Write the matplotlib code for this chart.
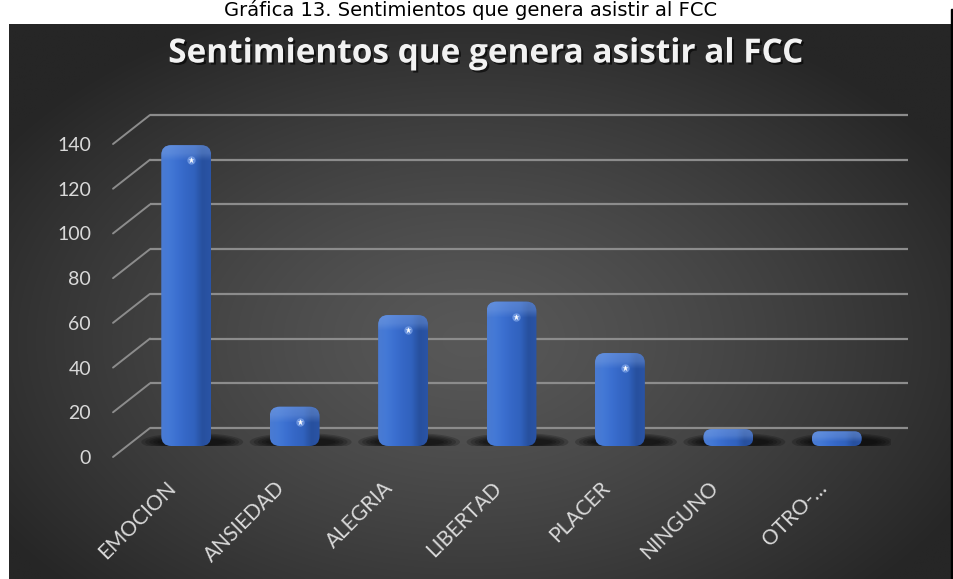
import numpy as np
import matplotlib
matplotlib.use('Agg')
import matplotlib.pyplot as plt
from matplotlib.patches import FancyBboxPatch, Rectangle, ConnectionPatch, Ellipse
from matplotlib.transforms import ScaledTranslation, blended_transform_factory
import matplotlib.patheffects as pe
from matplotlib.colors import LinearSegmentedColormap

# ---------------- data ----------------
categories = ['EMOCION', 'ANSIEDAD', 'ALEGRIA', 'LIBERTAD', 'PLACER', 'NINGUNO', 'OTRO-…']
values = [131, 14, 55, 61, 38, 4, 3]
yticks = [0, 20, 40, 60, 80, 100, 120, 140]
ytick_labels = [str(v) for v in yticks]
title = 'Sentimientos que genera asistir al FCC'
caption = 'Gráfica 13. Sentimientos que genera asistir al FCC'

W, H = 954, 579
fig = plt.figure(figsize=(W / 100, H / 100), dpi=100)
fig.patch.set_facecolor('white')


def off(dx, dy):
    return ScaledTranslation(dx / 100, dy / 100, fig.dpi_scale_trans)


# ---------------- background ----------------
bg = fig.add_axes([0, 0, 1, 1], zorder=-10)
bg.set_xlim(0, W)
bg.set_ylim(H, 0)
bg.axis('off')
x0, x1, y0, y1 = 9, 951, 24, 579
gx, gy = np.meshgrid(np.linspace(x0, x1, 400), np.linspace(y0, y1, 250))
r = np.sqrt(((gx - 470) / 560) ** 2 + ((gy - 340) / 360) ** 2)
r = np.clip(r, 0, 1)
c_center = np.array([0x58, 0x58, 0x58]) / 255
c_edge = np.array([0x26, 0x26, 0x26]) / 255
img = c_center + (c_edge - c_center) * (r[..., None] ** 1.3)
bg.imshow(img, extent=(x0, x1, y1, y0), aspect='auto', interpolation='bilinear')
bg.add_patch(Rectangle((951, 9), 3, H, color='black'))

# ---------------- main axes ----------------
ax = fig.add_axes([132 / W, (H - 446) / H, 759 / W, 313 / H])
ax.patch.set_alpha(0)
for s in ax.spines.values():
    s.set_visible(False)

ppx = 759 / 7
ppy = 313 / 140
aspect = (1 / ppy) / (1 / ppx)

blend = blended_transform_factory(ax.transAxes, ax.transData)
back = blend + off(0, 18)
front = blend + off(0, -11)
grid_col = '#8c8c8c'
for v in yticks:
    ax.plot([0.0237, 1.0224], [v, v], transform=back, color=grid_col, lw=1.6,
            clip_on=False, zorder=1, solid_capstyle='butt')
    cp = ConnectionPatch((-0.025, v), (0.0237, v), coordsA=front, coordsB=back,
                         color=grid_col, lw=1.4, clip_on=False, zorder=1)
    ax.add_artist(cp)

# ---------------- bars ----------------
bw = 0.46
idx = np.arange(len(categories))
bars = ax.bar(idx, values, width=bw, color='none', edgecolor='none', zorder=3)

cmap = LinearSegmentedColormap.from_list(
    'bar', ['#4a7bd2', '#4479d6', '#3b6fd0', '#3567c6', '#3162be', '#27509e', '#2a54a6'])
grad = np.linspace(0, 1, 120)[None, :]
lid_px = 8

for b in bars:
    x, w, h = b.get_x(), b.get_width(), b.get_height()
    cx = x + w / 2
    hp = h * ppy + lid_px
    htot = hp / ppy
    # soft shadow
    for k in range(5):
        sh = Ellipse((cx + 6 / ppx, 4 / ppy), (w * ppx + 52 - 8 * k) / ppx,
                     (18 - 2.5 * k) / ppy, facecolor='black', edgecolor='none',
                     alpha=0.19, zorder=2)
        ax.add_patch(sh)
    rad = min(10 / ppx, (hp / 2) / ppx)
    patch = FancyBboxPatch((x, 0), w, htot,
                           boxstyle=f'round,pad=0,rounding_size={rad}',
                           mutation_aspect=aspect, facecolor='none',
                           edgecolor='none', zorder=3)
    ax.add_patch(patch)
    im = ax.imshow(grad, extent=(x, x + w, 0, htot), cmap=cmap, aspect='auto',
                   zorder=3, interpolation='bicubic')
    im.set_clip_path(patch)
    # lid (top face)
    cap_h = min(lid_px + 8, hp * 0.7)
    cap = np.zeros((40, 1, 4))
    cap[..., :3] = [0.52, 0.66, 0.9]
    cap[:, 0, 3] = np.concatenate([np.linspace(0.45, 0.35, 20), np.linspace(0.35, 0.0, 20)])
    imc = ax.imshow(cap, extent=(x, x + w, htot - cap_h / ppy, htot), aspect='auto',
                    zorder=4, interpolation='bilinear')
    imc.set_clip_path(patch)
    if hp > 25:
        ax.plot([x + w * 0.6], [htot - 15 / ppy], marker='o', ms=6, color='#a8c8ff',
                alpha=0.45, zorder=5, mec='none')
        ax.plot([x + w * 0.6], [htot - 15 / ppy], marker='*', ms=5, color='white',
                zorder=6, mec='none')

ax.set_xlim(-0.5, 6.5)
ax.set_ylim(0, 140)

# ---------------- ticks ----------------
lab_font = ['Lato', 'DejaVu Sans']
ax.set_yticks(yticks)
ax.set_yticklabels(ytick_labels, family=lab_font, fontsize=14, color='#d9d9d9')
ax.tick_params(axis='y', length=0, pad=29.5)
for lab in ax.get_yticklabels():
    lab.set_transform(lab.get_transform() + off(0, -11))

ax.set_xticks(idx)
ax.set_xticklabels(categories, family=lab_font, fontsize=15, color='#d9d9d9',
                   rotation=45, ha='right', va='center', rotation_mode='anchor')
ax.tick_params(axis='x', length=0, pad=28)
for lab in ax.get_xticklabels():
    lab.set_transform(lab.get_transform() + off(-13, 0))

# ---------------- titles ----------------
fig.text(486 / W, 1 - 54 / H, title, ha='center', va='center', fontsize=24,
         fontweight='bold', family=['Open Sans', 'DejaVu Sans'], color='#f2f2f2',
         path_effects=[pe.withSimplePatchShadow(offset=(1.5, -1.5),
                                                shadow_rgbFace='black', alpha=0.6)])
fig.text(471 / W, 1 - 16 / H, caption, ha='center', va='baseline', fontsize=14,
         family=['DejaVu Sans'], color='black')

fig.savefig('out.png', dpi=100)
